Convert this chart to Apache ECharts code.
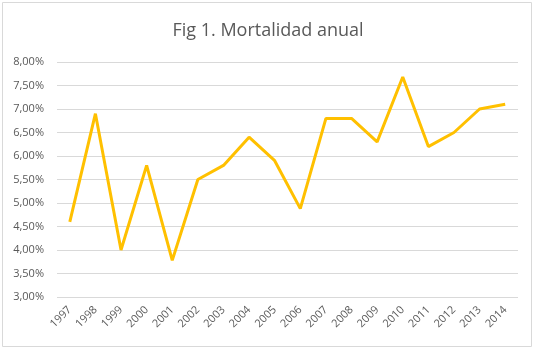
<!DOCTYPE html>
<html>
<head>
<meta charset="utf-8">
<script src="https://cdn.jsdelivr.net/npm/echarts@6/dist/echarts.min.js"></script>
<style>
  html, body { margin: 0; padding: 0; background: #fff; }
  #main { width: 536px; height: 349px; }
</style>
</head>
<body>
<div id="main"></div>
<script>
var years = ['1997', '1998', '1999', '2000', '2001', '2002', '2003', '2004', '2005',
  '2006', '2007', '2008', '2009', '2010', '2011', '2012', '2013', '2014'];
var mortalidad = [4.6, 6.9, 4.0, 5.8, 3.78, 5.5, 5.8, 6.4, 5.9,
  4.88, 6.8, 6.8, 6.3, 7.68, 6.2, 6.5, 7.0, 7.1];

var chartDom = document.getElementById('main');
var myChart = echarts.init(chartDom);
var option;

option = {
  animation: false,
  title: {
    text: 'Fig 1. Mortalidad anual',
    left: 'center',
    top: 17,
    textStyle: {
      fontFamily: 'Open Sans',
      fontSize: 18,
      fontWeight: 'normal',
      color: '#595959'
    }
  },
  graphic: [
    {
      type: 'rect',
      shape: { x: 2.5, y: 2.5, width: 529, height: 344 },
      style: { fill: 'none', stroke: '#d9d9d9', lineWidth: 1 },
      silent: true
    }
  ],
  grid: {
    left: 57,
    right: 18,
    top: 62,
    bottom: 52
  },
  xAxis: {
    type: 'category',
    data: years,
    boundaryGap: true,
    axisLine: { show: false },
    axisTick: { show: false },
    axisLabel: {
      rotate: 45,
      margin: 11,
      fontFamily: 'Open Sans',
      fontSize: 11,
      color: '#595959'
    }
  },
  yAxis: {
    type: 'value',
    min: 3,
    max: 8,
    interval: 0.5,
    axisLine: { show: false },
    axisTick: { show: false },
    splitLine: { lineStyle: { color: '#d9d9d9', width: 1 } },
    axisLabel: {
      margin: 13,
      fontFamily: 'Open Sans',
      fontSize: 11,
      color: '#595959',
      formatter: function (v) {
        return v.toFixed(2).replace('.', ',') + '%';
      }
    }
  },
  series: [
    {
      name: 'Mortalidad',
      type: 'line',
      data: mortalidad,
      symbol: 'none',
      lineStyle: { color: '#FFC000', width: 3 },
      itemStyle: { color: '#FFC000' }
    }
  ]
};

option && myChart.setOption(option);
</script>
</body>
</html>
